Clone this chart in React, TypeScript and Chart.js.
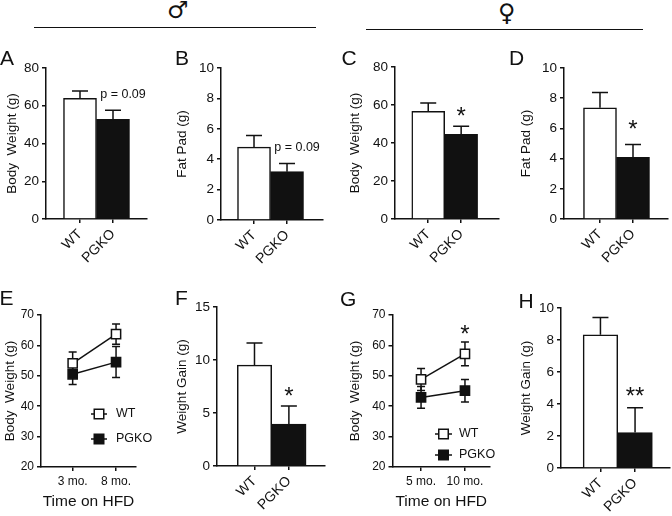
import React, { useEffect, useRef } from "react";
import { Chart, registerables } from "chart.js";

Chart.register(...registerables);

const FONT = "'Liberation Sans', Arial, Helvetica, sans-serif";
const INK = "#111111";

// ---------- data ----------
const groups = ["WT", "PGKO"];

// A: male body weight (g)
const maleBodyWeight = [63.9, 52.8];
const maleBodyWeightErr = [3.9, 4.8];
const maleBodyWeightNotes = ["", "p = 0.09"];
// B: male fat pad (g)
const maleFatPad = [4.79, 3.18];
const maleFatPadErr = [0.77, 0.53];
const maleFatPadNotes = ["", "p = 0.09"];
// C: female body weight (g)
const femaleBodyWeight = [56.7, 44.6];
const femaleBodyWeightErr = [4.4, 4.2];
const femaleBodyWeightNotes = ["", "*"];
// D: female fat pad (g)
const femaleFatPad = [7.36, 4.08];
const femaleFatPadErr = [1.01, 0.86];
const femaleFatPadNotes = ["", "*"];
// F: male weight gain (g)
const maleWeightGain = [9.51, 3.95];
const maleWeightGainErr = [2.1, 1.7];
const maleWeightGainNotes = ["", "*"];
// H: female weight gain (g)
const femaleWeightGain = [8.33, 2.22];
const femaleWeightGainErr = [1.08, 1.54];
const femaleWeightGainNotes = ["", "**"];

// E: male body weight over time on HFD
const maleTimes = ["3 mo.", "8 mo."];
const maleWT = [54.1, 63.7];
const maleWTErr = [3.7, 3.3];
const malePGKO = [50.5, 54.5];
const malePGKOErr = [3.4, 5.1];
// G: female body weight over time on HFD
const femaleTimes = ["5 mo.", "10 mo."];
const femaleWT = [48.8, 57.2];
const femaleWTErr = [3.6, 3.9];
const femaleWTNotes = ["", "*"];
const femalePGKO = [42.9, 45.1];
const femalePGKOErr = [3.6, 3.7];

// tick values
const bodyWeightTicks = [0, 20, 40, 60, 80];
const fatPadTicks = [0, 2, 4, 6, 8, 10];
const gainMaleTicks = [0, 5, 10, 15];
const gainFemaleTicks = [0, 2, 4, 6, 8, 10];
const timeCourseTicks = [20, 30, 40, 50, 60, 70];

// ---------- plugins ----------
const errorBars = {
  id: "errorBars",
  beforeDatasetsDraw(chart: any, _a: any, opts: any) {
    const ctx = chart.ctx;
    const ys = chart.scales.y;
    ctx.save();
    ctx.strokeStyle = INK;
    ctx.lineWidth = 1.5;
    chart.data.datasets.forEach((ds: any, d: number) => {
      if (!ds.errors) return;
      const meta = chart.getDatasetMeta(d);
      meta.data.forEach((el: any, i: number) => {
        const v = ds.data[i].y;
        const e = ds.errors[i];
        const x = el.x;
        const top = ys.getPixelForValue(v + e);
        const bot = opts.upOnly ? ys.getPixelForValue(v) : ys.getPixelForValue(v - e);
        const c = opts.cap / 2;
        ctx.beginPath();
        ctx.moveTo(x, bot);
        ctx.lineTo(x, top);
        ctx.moveTo(x - c, top);
        ctx.lineTo(x + c, top);
        if (!opts.upOnly) {
          ctx.moveTo(x - c, bot);
          ctx.lineTo(x + c, bot);
        }
        ctx.stroke();
      });
    });
    ctx.restore();
  },
};

const notes = {
  id: "notes",
  afterDatasetsDraw(chart: any, _a: any, opts: any) {
    const ctx = chart.ctx;
    const ys = chart.scales.y;
    ctx.save();
    ctx.fillStyle = INK;
    ctx.textAlign = "center";
    ctx.textBaseline = "alphabetic";
    chart.data.datasets.forEach((ds: any, d: number) => {
      if (!ds.notes) return;
      const meta = chart.getDatasetMeta(d);
      ds.notes.forEach((t: string, i: number) => {
        if (!t) return;
        const el = meta.data[i];
        const top = ys.getPixelForValue(ds.data[i].y + ds.errors[i]);
        const star = /^\*+$/.test(t);
        ctx.font = star ? `${opts.starSize}px ${FONT}` : `${opts.textSize}px ${FONT}`;
        const x = el.x + (star ? 0 : opts.textDx);
        const y = top - (star ? opts.starLift : opts.textLift);
        ctx.fillText(t, x, y);
      });
    });
    ctx.restore();
  },
};

const seriesKey = {
  id: "seriesKey",
  afterDraw(chart: any, _a: any, opts: any) {
    if (!opts || !opts.rows) return;
    const ctx = chart.ctx;
    ctx.save();
    chart.data.datasets.forEach((ds: any, d: number) => {
      const y = opts.rows[d];
      ctx.strokeStyle = INK;
      ctx.lineWidth = 1.5;
      ctx.beginPath();
      ctx.moveTo(opts.x0, y);
      ctx.lineTo(opts.x1, y);
      ctx.stroke();
      const cx = (opts.x0 + opts.x1) / 2;
      const s = opts.size;
      ctx.fillStyle = ds.pointBackgroundColor;
      ctx.fillRect(cx - s / 2, y - s / 2, s, s);
      ctx.strokeRect(cx - s / 2, y - s / 2, s, s);
      ctx.fillStyle = INK;
      ctx.font = `${opts.fontSize}px ${FONT}`;
      ctx.textAlign = "left";
      ctx.textBaseline = "middle";
      ctx.fillText(ds.label, opts.tx, y);
    });
    ctx.restore();
  },
};

// ---------- layout ----------
type Box = { x: number; y: number; w: number; h: number };
type Area = { l: number; t: number; r: number; b: number };

function yScale(ticks: number[], title: string, canvas: Box, area: Area, titleCx: number, tickSize: number) {
  const yW = area.l - canvas.x;
  const titleSize = 13.5;
  return {
    min: ticks[0],
    max: ticks[ticks.length - 1],
    ticks: { stepSize: ticks[1] - ticks[0], color: INK, font: { size: tickSize, family: FONT }, padding: 3 },
    grid: { drawOnChartArea: false, drawTicks: true, tickLength: 4, color: INK, lineWidth: 1.5 },
    border: { display: true, color: INK, width: 1.5 },
    title: {
      display: true,
      text: title,
      color: INK,
      font: { size: titleSize, family: FONT },
      padding: { top: titleCx - canvas.x - (titleSize * 1.2) / 2, bottom: 0 },
    },
    afterFit(s: any) {
      s.width = yW;
    },
  };
}

function xScale(labels: string[], range: number[], canvas: Box, area: Area, rotate: boolean, tickSize: number, title?: string) {
  const xH = canvas.y + canvas.h - area.b;
  const tSize = 15.5;
  return {
    type: "linear",
    min: range[0],
    max: range[1],
    offset: false,
    afterBuildTicks(s: any) {
      s.ticks = labels.map((_l, i) => ({ value: i }));
    },
    ticks: {
      callback: (_v: any, i: number) => labels[i],
      autoSkip: false,
      minRotation: rotate ? 45 : 0,
      maxRotation: rotate ? 45 : 0,
      color: INK,
      font: { size: tickSize, family: FONT },
      padding: 3,
    },
    grid: { offset: false, drawOnChartArea: false, drawTicks: true, tickLength: 4, color: INK, lineWidth: 1.5 },
    border: { display: true, color: INK, width: 1.5 },
    title: title
      ? { display: true, text: title, color: INK, font: { size: tSize, family: FONT }, padding: { top: 0, bottom: 4.7 } }
      : { display: false },
    afterFit(s: any) {
      s.height = xH;
    },
  };
}

type BarSpec = {
  canvas: Box; area: Area; range: number[]; titleCx: number; starLift: number;
  ticks: number[]; title: string; values: number[]; errors: number[]; notes: string[];
};

function barConfig(p: BarSpec): any {
  return {
    type: "bar",
    data: {
      datasets: [
        {
          data: p.values.map((y, i) => ({ x: i, y })),
          backgroundColor: ["#ffffff", INK],
          borderColor: INK,
          borderWidth: 1.5,
          categoryPercentage: 1,
          barPercentage: 1,
          errors: p.errors,
          notes: p.notes,
        },
      ],
    },
    options: {
      animation: false,
      responsive: false,
      devicePixelRatio: 1,
      events: [],
      layout: { padding: { top: p.area.t - p.canvas.y, right: p.canvas.x + p.canvas.w - p.area.r, left: 0, bottom: 0 } },
      scales: {
        x: xScale(groups, p.range, p.canvas, p.area, true, 14),
        y: yScale(p.ticks, p.title, p.canvas, p.area, p.titleCx, 13.5),
      },
      plugins: {
        legend: { display: false },
        tooltip: { enabled: false },
        errorBars: { cap: 16, upOnly: true },
        notes: { starSize: 24, starLift: p.starLift, textSize: 12.5, textLift: 12.5, textDx: 10 },
      },
    },
    plugins: [errorBars, notes],
  };
}

type LineSpec = {
  canvas: Box; area: Area; range: number[]; titleCx: number; starLift: number;
  labels: string[]; wt: number[]; wtErr: number[]; wtNotes?: string[]; ko: number[]; koErr: number[];
  key: { x0: number; x1: number; tx: number; rows: number[] };
};

function lineConfig(p: LineSpec): any {
  const ox = p.canvas.x;
  const oy = p.canvas.y;
  const common = {
    borderColor: INK,
    borderWidth: 1.5,
    pointStyle: "rect",
    pointRadius: 6.5,
    pointBorderColor: INK,
    pointBorderWidth: 1.5,
    tension: 0,
  };
  return {
    type: "line",
    data: {
      datasets: [
        { ...common, label: "WT", data: p.wt.map((y, i) => ({ x: i, y })), errors: p.wtErr, notes: p.wtNotes, pointBackgroundColor: "#ffffff" },
        { ...common, label: "PGKO", data: p.ko.map((y, i) => ({ x: i, y })), errors: p.koErr, pointBackgroundColor: INK },
      ],
    },
    options: {
      animation: false,
      responsive: false,
      devicePixelRatio: 1,
      events: [],
      layout: { padding: { top: p.area.t - p.canvas.y, right: p.canvas.x + p.canvas.w - p.area.r, left: 0, bottom: 0 } },
      scales: {
        x: xScale(p.labels, p.range, p.canvas, p.area, false, 12, "Time on HFD"),
        y: yScale(timeCourseTicks, "Body  Weight (g)", p.canvas, p.area, p.titleCx, 12),
      },
      plugins: {
        legend: { display: false },
        tooltip: { enabled: false },
        errorBars: { cap: 8, upOnly: false },
        notes: { starSize: 24, starLift: p.starLift, textSize: 12.5, textLift: 12.5, textDx: 0 },
        seriesKey: {
          x0: p.key.x0 - ox,
          x1: p.key.x1 - ox,
          tx: p.key.tx - ox,
          rows: p.key.rows.map((r) => r - oy),
          size: 9.5,
          fontSize: 12.5,
        },
      },
    },
    plugins: [errorBars, notes, seriesKey],
  };
}

const ROW1 = 36;
const ROW1H = 234;
const ROW2 = 278;
const ROW2H = 238;

const panels: { canvas: Box; build: () => any }[] = [];

const specA: BarSpec = {
  canvas: { x: 0, y: ROW1, w: 168, h: ROW1H }, area: { l: 46, t: 68, r: 147, b: 219 }, range: [-1.03, 2.03],
  titleCx: 12, starLift: 2.2, ticks: bodyWeightTicks, title: "Body  Weight (g)",
  values: maleBodyWeight, errors: maleBodyWeightErr, notes: maleBodyWeightNotes,
};
const specB: BarSpec = {
  canvas: { x: 168, y: ROW1, w: 168, h: ROW1H }, area: { l: 221, t: 68, r: 323, b: 220 }, range: [-1.0, 2.09],
  titleCx: 182.5, starLift: 2.2, ticks: fatPadTicks, title: "Fat Pad (g)",
  values: maleFatPad, errors: maleFatPadErr, notes: maleFatPadNotes,
};
const specC: BarSpec = {
  canvas: { x: 336, y: ROW1, w: 168, h: ROW1H }, area: { l: 395, t: 67, r: 499, b: 219 }, range: [-1.01, 2.15],
  titleCx: 355, starLift: 2.2, ticks: bodyWeightTicks, title: "Body  Weight (g)",
  values: femaleBodyWeight, errors: femaleBodyWeightErr, notes: femaleBodyWeightNotes,
};
const specD: BarSpec = {
  canvas: { x: 504, y: ROW1, w: 168, h: ROW1H }, area: { l: 564, t: 68, r: 668, b: 219 }, range: [-1.09, 2.06],
  titleCx: 526.5, starLift: 7.2, ticks: fatPadTicks, title: "Fat Pad (g)",
  values: femaleFatPad, errors: femaleFatPadErr, notes: femaleFatPadNotes,
};
const specF: BarSpec = {
  canvas: { x: 168, y: ROW2, w: 168, h: ROW2H }, area: { l: 217, t: 307, r: 325, b: 466 }, range: [-1.09, 2.05],
  titleCx: 182.5, starLift: 2.2, ticks: gainMaleTicks, title: "Weight Gain (g)",
  values: maleWeightGain, errors: maleWeightGainErr, notes: maleWeightGainNotes,
};
const specH: BarSpec = {
  canvas: { x: 504, y: ROW2, w: 168, h: ROW2H }, area: { l: 561, t: 308, r: 670, b: 468 }, range: [-1.14, 2.01],
  titleCx: 526.5, starLift: 4, ticks: gainFemaleTicks, title: "Weight Gain (g)",
  values: femaleWeightGain, errors: femaleWeightGainErr, notes: femaleWeightGainNotes,
};
const specE: LineSpec = {
  canvas: { x: 0, y: ROW2, w: 168, h: ROW2H }, area: { l: 41, t: 315, r: 136, b: 467 }, range: [-0.73, 1.46],
  titleCx: 10, starLift: 0.5, labels: maleTimes, wt: maleWT, wtErr: maleWTErr, ko: malePGKO, koErr: malePGKOErr,
  key: { x0: 91, x1: 107, tx: 116, rows: [414, 439] },
};
const specG: LineSpec = {
  canvas: { x: 336, y: ROW2, w: 168, h: ROW2H }, area: { l: 392.5, t: 315, r: 490, b: 467 }, range: [-0.65, 1.57],
  titleCx: 355, starLift: 0.5, labels: femaleTimes, wt: femaleWT, wtErr: femaleWTErr, wtNotes: femaleWTNotes,
  ko: femalePGKO, koErr: femalePGKOErr,
  key: { x0: 435, x1: 452, tx: 459, rows: [434, 455] },
};

[specA, specB, specC, specD].forEach((s) => panels.push({ canvas: s.canvas, build: () => barConfig(s) }));
panels.push({ canvas: specE.canvas, build: () => lineConfig(specE) });
panels.push({ canvas: specF.canvas, build: () => barConfig(specF) });
panels.push({ canvas: specG.canvas, build: () => lineConfig(specG) });
panels.push({ canvas: specH.canvas, build: () => barConfig(specH) });

const letters = [
  { t: "A", x: 0, y: 46.5 },
  { t: "B", x: 175, y: 46.5 },
  { t: "C", x: 341.5, y: 46.5 },
  { t: "D", x: 509, y: 46.5 },
  { t: "E", x: -0.5, y: 286.5 },
  { t: "F", x: 175, y: 286.5 },
  { t: "G", x: 340, y: 288 },
  { t: "H", x: 518.5, y: 289.5 },
];

function Panel({ canvas, build }: { canvas: Box; build: () => any }) {
  const ref = useRef<HTMLCanvasElement>(null);
  useEffect(() => {
    const chart = new Chart(ref.current as HTMLCanvasElement, build());
    return () => chart.destroy();
  }, []);
  return (
    <canvas
      ref={ref}
      width={canvas.w}
      height={canvas.h}
      style={{ position: "absolute", left: canvas.x, top: canvas.y, width: canvas.w, height: canvas.h }}
    />
  );
}

export default function App() {
  return (
    <div style={{ position: "absolute", left: 0, top: 0, width: 672, height: 516, background: "#fff", overflow: "hidden" }}>
      {panels.map((p, i) => (
        <Panel key={i} canvas={p.canvas} build={p.build} />
      ))}
      <div style={{ position: "absolute", left: 34, top: 26.5, width: 282, height: 1.5, background: INK }} />
      <div style={{ position: "absolute", left: 366, top: 28.5, width: 277, height: 1.5, background: INK }} />
      <span style={{ position: "absolute", left: 167, top: -2, fontFamily: "'DejaVu Sans', sans-serif", fontSize: 24, lineHeight: "24px", color: INK }}>♂</span>
      <span style={{ position: "absolute", left: 498, top: 1, fontFamily: "'DejaVu Sans', sans-serif", fontSize: 24, lineHeight: "24px", color: INK }}>♀</span>
      {letters.map((l) => (
        <span
          key={l.t}
          style={{ position: "absolute", left: l.x, top: l.y, fontFamily: FONT, fontSize: 21, lineHeight: "21px", color: INK }}
        >
          {l.t}
        </span>
      ))}
    </div>
  );
}
